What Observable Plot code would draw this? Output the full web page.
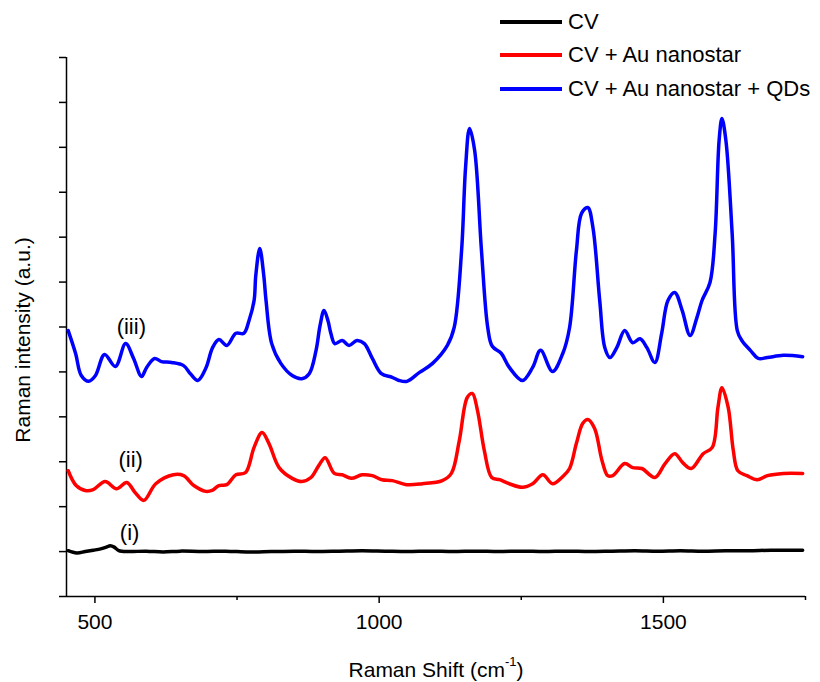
<!DOCTYPE html>
<html>
<head>
<meta charset="utf-8">
<script src="https://cdn.jsdelivr.net/npm/d3@7"></script>
<script src="https://cdn.jsdelivr.net/npm/@observablehq/plot@0.6"></script>
<style>
  html, body { margin: 0; padding: 0; background: #fff; }
  #wrap { position: relative; width: 820px; height: 682px; font-family: "Liberation Sans", Arial, sans-serif; color: #000; }
  #chart { position: absolute; left: 0; top: 0; }
  .legend { position: absolute; left: 500px; top: 5px; font-size: 22px; }
  .legend .row { display: flex; align-items: center; height: 33.5px; }
  .legend .sw { width: 62px; height: 4px; margin-right: 6px; }
  .ytitle { position: absolute; left: 23px; top: 340px; transform: translate(-50%, -50%) rotate(-90deg); font-size: 21px; white-space: nowrap; }
  .xtitle { position: absolute; left: 436px; top: 669px; transform: translate(-50%, -50%); font-size: 21px; white-space: nowrap; }
  .xtitle sup { font-size: 13px; position: relative; top: -3px; }
</style>
</head>
<body>
<div id="wrap">
  <div id="chart"></div>
  <div class="legend" id="legend"></div>
  <div class="ytitle">Raman intensity (a.u.)</div>
  <div class="xtitle">Raman Shift (cm<sup>-1</sup>)</div>
</div>
<script>
// ---- Data ----
const seriesNames = ["CV", "CV + Au nanostar", "CV + Au nanostar + QDs"];
const seriesColors = ["#000000", "#ff0000", "#0000ff"];

const xDomain = [450, 1750];
const yDomain = [-1, 11];
const xMajorTicks = [500, 1000, 1500];
const xMinorTicks = [750, 1250, 1750];
const yTicks = [-1, 0, 1, 2, 3, 4, 5, 6, 7, 8, 9, 10, 11];

// (i) CV
const cvShift = [453, 468, 483, 497, 510, 520, 527, 534, 542, 560, 590, 620, 650, 690, 730, 770, 810, 850, 890, 930, 970, 1010, 1050, 1090, 1130, 1170, 1210, 1250, 1290, 1330, 1370, 1410, 1450, 1490, 1530, 1570, 1610, 1650, 1690, 1745];
const cvIntensity = [0.02, -0.03, 0.0, 0.03, 0.06, 0.1, 0.13, 0.1, 0.02, 0.0, 0.01, -0.01, 0.01, 0.0, 0.01, -0.01, 0.0, 0.01, 0.0, 0.01, 0.02, 0.01, 0.0, 0.01, 0.0, 0.01, 0.0, 0.01, 0.0, 0.01, 0.0, 0.01, 0.02, 0.01, 0.02, 0.01, 0.02, 0.02, 0.03, 0.03];

// (ii) CV + Au nanostar
const auShift = [453, 467, 483, 497, 518, 538, 556, 571, 586, 607, 638, 656, 674, 695, 706, 718, 732, 748, 765, 780, 794, 806, 824, 847, 864, 880, 894, 905, 921, 935, 951, 970, 988, 1005, 1023, 1048, 1076, 1111, 1127, 1141, 1155, 1164, 1173, 1185, 1198, 1212, 1229, 1252, 1270, 1288, 1305, 1323, 1335, 1347, 1358, 1367, 1379, 1392, 1402, 1411, 1432, 1446, 1462, 1485, 1503, 1520, 1534, 1549, 1570, 1586, 1596, 1603, 1614, 1623, 1631, 1647, 1665, 1683, 1711, 1745];
const auIntensity = [1.80, 1.47, 1.36, 1.38, 1.56, 1.40, 1.54, 1.31, 1.14, 1.51, 1.71, 1.69, 1.47, 1.34, 1.36, 1.47, 1.49, 1.71, 1.76, 2.32, 2.65, 2.41, 1.87, 1.63, 1.56, 1.65, 1.92, 2.09, 1.74, 1.71, 1.63, 1.71, 1.69, 1.60, 1.58, 1.49, 1.51, 1.58, 1.74, 2.47, 3.43, 3.52, 3.14, 2.25, 1.65, 1.60, 1.51, 1.43, 1.51, 1.71, 1.51, 1.67, 1.85, 2.41, 2.85, 2.94, 2.74, 2.03, 1.69, 1.69, 1.96, 1.87, 1.85, 1.65, 1.96, 2.18, 1.98, 1.85, 2.18, 2.32, 3.21, 3.65, 3.21, 2.25, 1.80, 1.69, 1.60, 1.69, 1.74, 1.74];

// (iii) CV + Au nanostar + QDs
const qdShift = [453, 466, 476, 489, 501, 517, 536, 554, 568, 582, 591, 605, 617, 635, 656, 668, 681, 695, 707, 718, 732, 748, 762, 771, 780, 783, 790, 797, 801, 811, 827, 847, 864, 877, 889, 896, 903, 910, 915, 922, 935, 947, 961, 974, 988, 1004, 1023, 1035, 1049, 1071, 1094, 1120, 1132, 1145, 1152, 1159, 1168, 1180, 1191, 1199, 1215, 1229, 1252, 1270, 1284, 1305, 1323, 1335, 1347, 1356, 1367, 1376, 1388, 1397, 1406, 1418, 1432, 1446, 1459, 1471, 1485, 1497, 1508, 1520, 1533, 1547, 1559, 1568, 1582, 1591, 1598, 1603, 1610, 1621, 1630, 1638, 1653, 1667, 1683, 1711, 1745];
const qdIntensity = [4.92, 4.41, 3.92, 3.79, 3.92, 4.39, 4.12, 4.63, 4.30, 3.90, 4.10, 4.30, 4.23, 4.21, 4.14, 3.96, 3.81, 4.08, 4.54, 4.72, 4.59, 4.86, 4.86, 5.14, 5.59, 6.15, 6.75, 6.15, 5.59, 4.63, 4.19, 3.92, 3.85, 3.96, 4.48, 5.03, 5.37, 5.14, 4.86, 4.63, 4.70, 4.59, 4.70, 4.63, 4.30, 3.96, 3.88, 3.81, 3.79, 3.99, 4.19, 4.59, 4.99, 6.70, 8.55, 9.42, 8.93, 6.70, 4.99, 4.57, 4.41, 4.10, 3.81, 4.10, 4.48, 4.01, 4.41, 4.99, 6.70, 7.53, 7.66, 7.22, 5.59, 4.54, 4.32, 4.54, 4.92, 4.65, 4.74, 4.54, 4.21, 4.86, 5.59, 5.77, 5.37, 4.81, 5.21, 5.59, 5.99, 7.08, 9.15, 9.64, 9.15, 7.08, 4.92, 4.70, 4.48, 4.30, 4.32, 4.37, 4.34];

// curve labels
const labelText = ["(i)", "(ii)", "(iii)"];
const labelShift = [561, 563, 564];
const labelIntensity = [0.42, 2.03, 4.99];

// ---- Build ----
const toRows = (xs, ys, s) => xs.map((x, i) => ({x, y: ys[i], s}));
const rows = [
  ...toRows(cvShift, cvIntensity, seriesNames[0]),
  ...toRows(auShift, auIntensity, seriesNames[1]),
  ...toRows(qdShift, qdIntensity, seriesNames[2])
];
const labels = labelText.map((t, i) => ({t, x: labelShift[i], y: labelIntensity[i]}));

const chart = Plot.plot({
  width: 820,
  height: 682,
  marginLeft: 66,
  marginRight: 15,
  marginTop: 57,
  marginBottom: 86,
  style: {fontFamily: "'Liberation Sans', Arial, sans-serif", fontSize: "21px", color: "#000", background: "#fff", overflow: "visible"},
  x: {domain: xDomain},
  y: {domain: yDomain},
  color: {domain: seriesNames, range: seriesColors},
  marks: [
    Plot.axisX({ticks: xMinorTicks, tickSize: 4, tickFormat: () => "", label: null, strokeWidth: 1.5}),
    Plot.axisX({ticks: xMajorTicks, tickSize: 7, tickPadding: 11, tickFormat: d => String(d), label: null, strokeWidth: 1.5, fontSize: 21}),
    Plot.axisY({ticks: yTicks, tickSize: 7, tickFormat: () => "", label: null, strokeWidth: 1.5}),
    Plot.ruleX([xDomain[0]], {strokeWidth: 1.5}),
    Plot.ruleY([yDomain[0]], {strokeWidth: 1.5}),
    Plot.line(rows, {x: "x", y: "y", z: "s", stroke: "s", strokeWidth: 3.5, curve: "catmull-rom"}),
    Plot.text(labels, {x: "x", y: "y", text: "t", fontSize: 22, fill: "#000"})
  ]
});
document.getElementById("chart").appendChild(chart);

const legend = document.getElementById("legend");
seriesNames.forEach((n, i) => {
  const row = document.createElement("div");
  row.className = "row";
  const sw = document.createElement("div");
  sw.className = "sw";
  sw.style.background = seriesColors[i];
  const t = document.createElement("span");
  t.textContent = n;
  row.appendChild(sw);
  row.appendChild(t);
  legend.appendChild(row);
});
</script>
</body>
</html>
